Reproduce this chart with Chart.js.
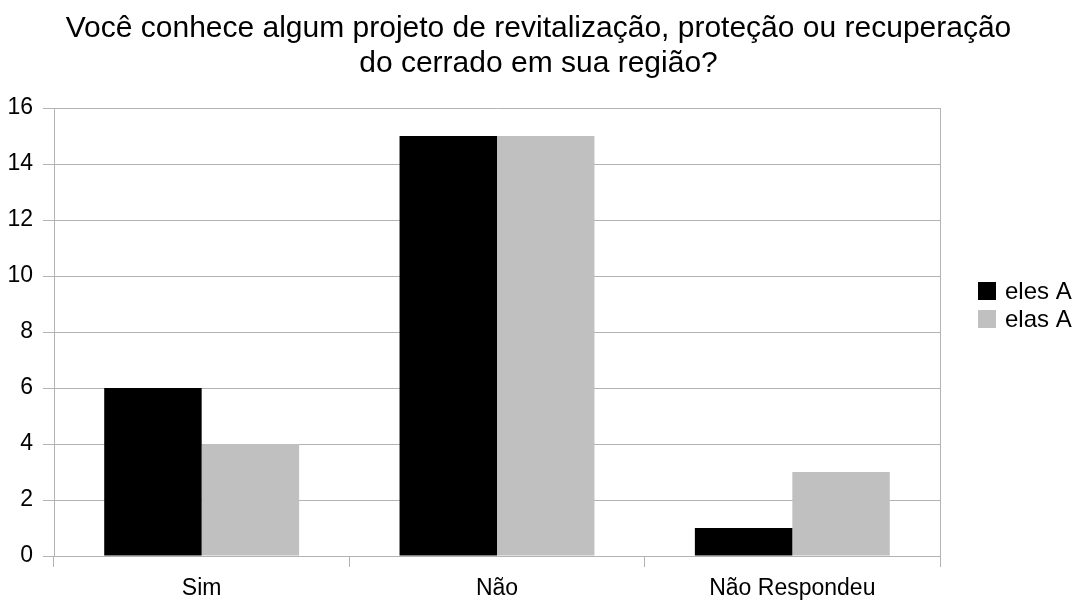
<!DOCTYPE html>
<html>
<head>
<meta charset="utf-8">
<script src="https://cdn.jsdelivr.net/npm/chart.js@4"></script>
<style>
  html, body { margin: 0; padding: 0; background: #fff; }
  #wrap { width: 1077px; height: 600px; }
</style>
</head>
<body>
<div id="wrap"><canvas id="grafico" width="1077" height="600"></canvas></div>
<script>
// dados do gráfico
const titulo = ["Você conhece algum projeto de revitalização, proteção ou recuperação", "do cerrado em sua região?"];
const categorias = ["Sim", "Não", "Não Respondeu"];
const seriesNomes = ["eles A", "elas A"];
const elesA = [6, 15, 1];
const elasA = [4, 15, 3];
const coresSeries = ["#000000", "#c0c0c0"];

const fonte = "'Liberation Sans', Arial, sans-serif";
const corGrade = "#b3b3b3";

// título, legenda e borda direita desenhados à mão
const extras = {
  id: "extras",
  afterDraw(chart) {
    const ctx = chart.ctx;
    const area = chart.chartArea;
    ctx.save();

    // borda direita
    ctx.strokeStyle = corGrade;
    ctx.lineWidth = 1;
    ctx.beginPath();
    ctx.moveTo(Math.round(area.right) + 0.5, area.top);
    ctx.lineTo(Math.round(area.right) + 0.5, area.bottom);
    ctx.stroke();

    // título
    ctx.fillStyle = "#000";
    ctx.font = "30px " + fonte;
    ctx.textAlign = "center";
    ctx.textBaseline = "alphabetic";
    titulo.forEach((linha, i) => {
      ctx.fillText(linha, chart.width / 2, 37 + i * 35);
    });

    // legenda
    ctx.font = "24px " + fonte;
    ctx.textAlign = "left";
    ctx.textBaseline = "middle";
    chart.data.datasets.forEach((ds, i) => {
      const y = 282 + i * 28;
      ctx.fillStyle = ds.backgroundColor;
      ctx.fillRect(978, y, 18, 18);
      ctx.fillStyle = "#000";
      ctx.fillText(ds.label, 1005, y + 10);
    });

    ctx.restore();
  },
};

new Chart(document.getElementById("grafico"), {
  type: "bar",
  data: {
    labels: categorias,
    datasets: [
      {
        label: seriesNomes[0],
        data: elesA,
        backgroundColor: coresSeries[0],
        borderWidth: 0,
      },
      {
        label: seriesNomes[1],
        data: elasA,
        backgroundColor: coresSeries[1],
        borderWidth: 0,
      },
    ],
  },
  options: {
    responsive: false,
    animation: false,
    layout: {
      padding: { top: 108, right: 137, left: 0, bottom: 0 },
    },
    datasets: {
      bar: { barPercentage: 1, categoryPercentage: 0.66 },
    },
    plugins: {
      legend: { display: false },
      title: { display: false },
      tooltip: { enabled: false },
    },
    scales: {
      x: {
        offset: true,
        grid: {
          offset: true,
          drawOnChartArea: false,
          drawTicks: true,
          tickLength: 11,
          color: corGrade,
        },
        border: { display: true, color: corGrade },
        ticks: {
          color: "#000",
          font: { family: fonte, size: 23 },
          padding: 8,
          maxRotation: 0,
        },
        afterFit(scale) {
          scale.height = 44;
        },
      },
      y: {
        min: 0,
        max: 16,
        ticks: {
          stepSize: 2,
          color: "#000",
          font: { family: fonte, size: 23 },
          padding: 10,
        },
        grid: {
          color: corGrade,
          tickLength: 11,
        },
        border: { display: true, color: corGrade },
        afterFit(scale) {
          scale.width = 54;
        },
      },
    },
  },
  plugins: [extras],
});
</script>
</body>
</html>
